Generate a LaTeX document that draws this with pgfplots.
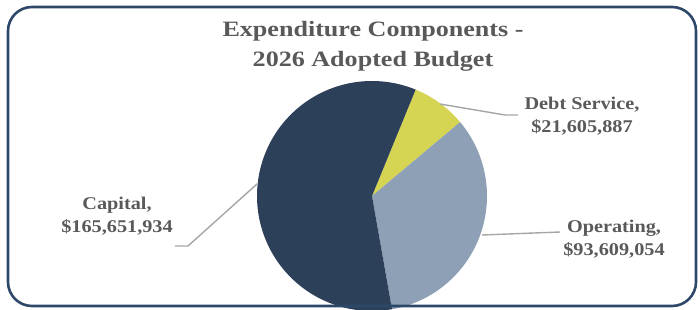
\documentclass[border=0pt]{standalone}
\usepackage{pgfplots}
\pgfplotsset{compat=1.18}
\usepackage{pgfplotstable}
\usepackage{fontspec}
\setmainfont{Liberation Serif}
\newfontfamily\titlefont[FakeStretch=1.19]{Liberation Serif}
\newfontfamily\labelfont[FakeStretch=1.13]{Liberation Serif}
\definecolor{capital}{HTML}{2C405A}
\definecolor{debt}{HTML}{D6D453}
\definecolor{operating}{HTML}{8EA0B6}
\definecolor{frame}{HTML}{2D4768}
\definecolor{txt}{HTML}{595959}
\definecolor{leader}{HTML}{A6A6A6}
% values of the three expenditure components
\pgfplotstableread{
name value
Debt 21605887
Operating 93609054
Capital 165651934
}\budget
\pgfplotstablegetelem{0}{value}\of\budget \let\vDebt\pgfplotsretval
\pgfplotstablegetelem{1}{value}\of\budget \let\vOper\pgfplotsretval
\pgfplotstablegetelem{2}{value}\of\budget \let\vCap\pgfplotsretval
\pgfkeys{/pgf/fpu=true}
\pgfmathparse{\vDebt+\vOper+\vCap}\let\vTot\pgfmathresult
\pgfmathparse{67.7-360*\vDebt/\vTot}\pgfmathfloattofixed{\pgfmathresult}\let\aA\pgfmathresult
\pgfmathparse{67.7-360*(\vDebt+\vOper)/\vTot}\pgfmathfloattofixed{\pgfmathresult}\let\aB\pgfmathresult
\pgfkeys{/pgf/fpu=false}
\def\aS{67.7}
\def\aE{-292.3}
\def\cx{372}
\def\cy{113}
\def\rr{115}
\begin{document}
\begin{tikzpicture}
\begin{axis}[
  width=700bp, height=309bp, scale only axis,
  xmin=0, xmax=700, ymin=0, ymax=309,
  hide axis, clip mode=individual,
]
\path (axis cs:0,0) rectangle (axis cs:700,309);
% slices
\addplot[fill=debt, draw=none, domain=\aA:\aS, samples=40]
  ({\cx+\rr*cos(x)},{\cy+\rr*sin(x)}) -- (axis cs:\cx,\cy) -- cycle;
\addplot[fill=operating, draw=none, domain=\aB:\aA, samples=80]
  ({\cx+\rr*cos(x)},{\cy+\rr*sin(x)}) -- (axis cs:\cx,\cy) -- cycle;
\addplot[fill=capital, draw=none, domain=\aE:\aB, samples=140]
  ({\cx+\rr*cos(x)},{\cy+\rr*sin(x)}) -- (axis cs:\cx,\cy) -- cycle;
% leader lines
\addplot[leader, line width=1.4bp] coordinates {(440,205) (505,194) (518,194)};
\addplot[leader, line width=1.4bp] coordinates {(482,74) (560,77)};
\addplot[leader, line width=1.4bp] coordinates {(257,125) (188,63) (175,63)};
% frame
\draw[frame, line width=2.6bp, rounded corners=24bp] (axis cs:8,3) rectangle (axis cs:696,302);
% title
\node[txt, font=\titlefont\bfseries\fontsize{22}{30}\selectfont, align=center] at (axis cs:373,263)
  {Expenditure Components -\\2026 Adopted Budget};
% labels
\node[txt, font=\labelfont\bfseries\fontsize{18}{23}\selectfont, align=center] at (axis cs:582,193)
  {Debt Service,\\\$21,605,887};
\node[txt, font=\labelfont\bfseries\fontsize{18}{23}\selectfont, align=center] at (axis cs:614,70)
  {Operating,\\\$93,609,054};
\node[txt, font=\labelfont\bfseries\fontsize{18}{23}\selectfont, align=center] at (axis cs:117,93)
  {Capital,\\\$165,651,934};
\end{axis}
\end{tikzpicture}
\end{document}
